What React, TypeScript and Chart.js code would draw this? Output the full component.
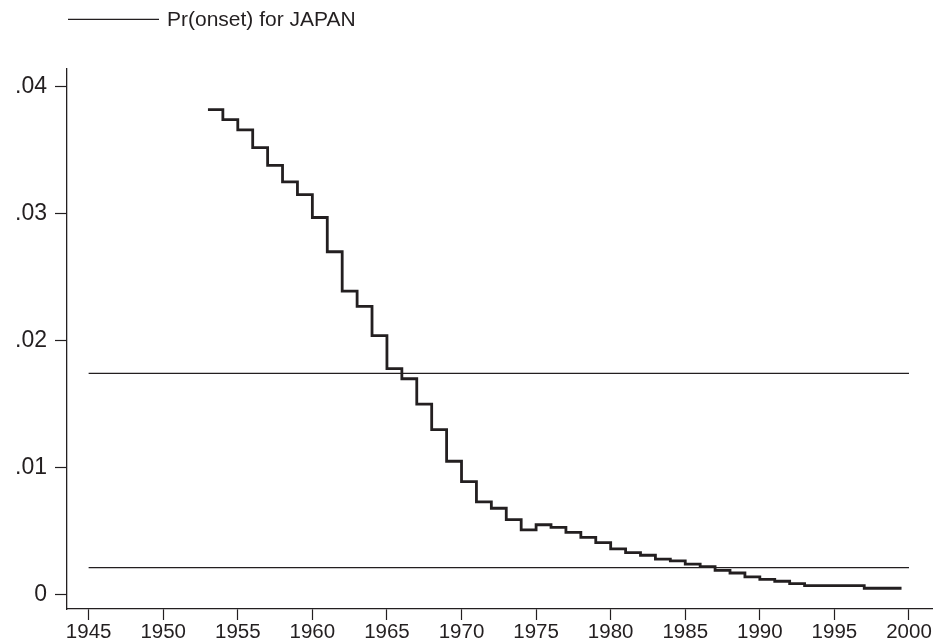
import React, { useEffect, useRef } from "react";
import { Chart, registerables } from "chart.js";

Chart.register(...registerables);

// Step series: predicted probability of onset for Japan
const years = [
  1953, 1954, 1955, 1956, 1957, 1958, 1959, 1960, 1961, 1962,
  1963, 1964, 1965, 1966, 1967, 1968, 1969, 1970, 1971, 1972,
  1973, 1974, 1975, 1976, 1977, 1978, 1979, 1980, 1981, 1982,
  1983, 1984, 1985, 1986, 1987, 1988, 1989, 1990, 1991, 1992,
  1993, 1994, 1995, 1996, 1997, 1998, 1999, 1999.5,
];
const prOnset = [
  0.0382, 0.0374, 0.0366, 0.0352, 0.0338, 0.0325, 0.0315, 0.0297, 0.027, 0.0239,
  0.0227, 0.0204, 0.0178, 0.017, 0.015, 0.013, 0.0105, 0.0089, 0.0073, 0.0068,
  0.0059, 0.0051, 0.0055, 0.0053, 0.0049, 0.0045, 0.0041, 0.0036, 0.0033, 0.0031,
  0.0028, 0.00265, 0.0024, 0.0022, 0.0019, 0.0017, 0.0014, 0.0012, 0.00105, 0.00087,
  0.0007, 0.0007, 0.0007, 0.0007, 0.0005, 0.0005, 0.0005, 0.0005,
];

// Horizontal reference lines
const refLevels = [0.01742, 0.00213];
const refSpan = [1945, 2000];

// Axes
const xTickValues = [1945, 1950, 1955, 1960, 1965, 1970, 1975, 1980, 1985, 1990, 1995, 2000];
const xTickLabels = ["1945", "1950", "1955", "1960", "1965", "1970", "1975", "1980", "1985", "1990", "1995", "2000"];
const yTickValues = [0, 0.01, 0.02, 0.03, 0.04];
const yTickLabels = ["0", ".01", ".02", ".03", ".04"];
const xRange = [1943.55, 2001.61];
const yRange = [-0.001135, 0.041395];

const legendLabel = "Pr(onset) for JAPAN";

const INK = "#231f20";
const FONT = "'Liberation Sans', Arial, Helvetica, sans-serif";

const legendPlugin = {
  id: "stataLegend",
  afterDraw(chart: any) {
    const ctx = chart.ctx;
    const left = chart.chartArea.left;
    ctx.save();
    ctx.strokeStyle = INK;
    ctx.lineWidth = 1.3;
    ctx.beginPath();
    ctx.moveTo(left + 1, 19.3);
    ctx.lineTo(left + 92, 19.3);
    ctx.stroke();
    ctx.fillStyle = INK;
    ctx.font = `21px ${FONT}`;
    ctx.textBaseline = "alphabetic";
    ctx.textAlign = "left";
    ctx.fillText(legendLabel, left + 100, 26);
    ctx.restore();
  },
};

export default function App() {
  const canvasRef = useRef<HTMLCanvasElement | null>(null);

  useEffect(() => {
    const canvas = canvasRef.current;
    if (!canvas) return;

    const stepData = years.map((x, i) => ({ x, y: prOnset[i] }));
    const refDatasets = refLevels.map((lvl) => ({
      label: "ref",
      data: refSpan.map((x) => ({ x, y: lvl })),
      borderColor: INK,
      borderWidth: 1.2,
      pointRadius: 0,
      fill: false,
      tension: 0,
    }));

    const chart = new Chart(canvas, {
      type: "line",
      data: {
        datasets: [
          {
            label: legendLabel,
            data: stepData,
            borderColor: INK,
            borderWidth: 2.8,
            pointRadius: 0,
            fill: false,
            stepped: "before",
          } as any,
          ...(refDatasets as any[]),
        ],
      },
      options: {
        animation: false,
        responsive: false,
        maintainAspectRatio: false,
        layout: { padding: { top: 69, left: 0, right: 0, bottom: 0 } },
        plugins: {
          legend: { display: false },
          tooltip: { enabled: false },
          title: { display: false },
        },
        scales: {
          x: {
            type: "linear",
            min: xRange[0],
            max: xRange[1],
            afterBuildTicks: (scale: any) => {
              scale.ticks = xTickValues.map((v) => ({ value: v }));
            },
            afterFit: (scale: any) => {
              scale.height = 35;
            },
            ticks: {
              autoSkip: false,
              maxRotation: 0,
              minRotation: 0,
              padding: 0,
              color: INK,
              font: { family: FONT, size: 20.5 },
              callback: (v: any) => {
                const i = xTickValues.indexOf(Number(v));
                return i >= 0 ? xTickLabels[i] : "";
              },
            },
            grid: {
              display: true,
              drawOnChartArea: false,
              drawTicks: true,
              tickLength: 11,
              tickColor: INK,
              tickWidth: 1.2,
            },
            border: { display: true, color: INK, width: 1.3 },
          },
          y: {
            type: "linear",
            min: yRange[0],
            max: yRange[1],
            afterBuildTicks: (scale: any) => {
              scale.ticks = yTickValues.map((v) => ({ value: v }));
            },
            afterFit: (scale: any) => {
              scale.width = 67;
            },
            ticks: {
              autoSkip: false,
              padding: 8,
              color: INK,
              font: { family: FONT, size: 23 },
              callback: (v: any) => {
                const i = yTickValues.findIndex((t) => Math.abs(t - Number(v)) < 1e-9);
                return i >= 0 ? yTickLabels[i] : "";
              },
            },
            grid: {
              display: true,
              drawOnChartArea: false,
              drawTicks: true,
              tickLength: 12,
              tickColor: INK,
              tickWidth: 1.2,
            },
            border: { display: true, color: INK, width: 1.3 },
          },
        },
      },
      plugins: [legendPlugin],
    });

    return () => {
      chart.destroy();
    };
  }, []);

  return (
    <div style={{ position: "fixed", left: 0, top: 0, width: "933px", height: "644px", background: "#fff" }}>
      <canvas ref={canvasRef} width={933} height={644} style={{ display: "block" }} />
    </div>
  );
}
